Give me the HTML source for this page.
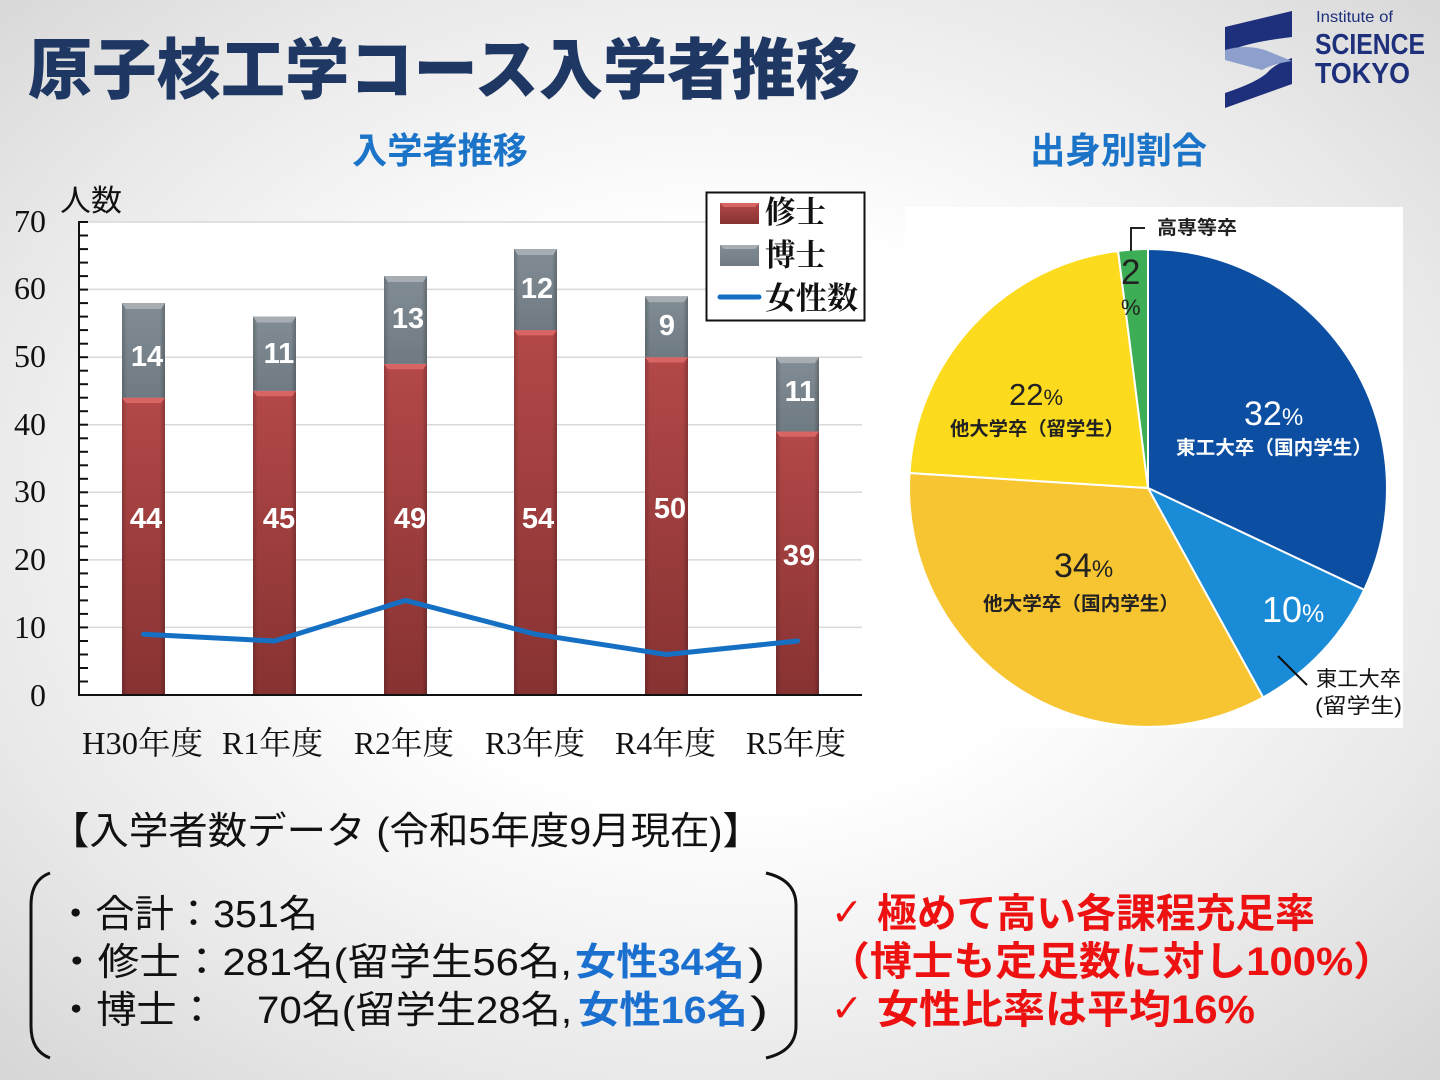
<!DOCTYPE html>
<html><head><meta charset="utf-8"><style>
html,body{margin:0;padding:0;}
body{width:1440px;height:1080px;overflow:hidden;background:radial-gradient(ellipse 75% 75% at 50% 48%,#ffffff 35%,#e9e9e9 70%,#d3d3d3 100%);}
svg{display:block;}
</style></head><body>
<svg width="1440" height="1080" viewBox="0 0 1440 1080" xmlns="http://www.w3.org/2000/svg">
<defs>
<linearGradient id="red" x1="0" y1="0" x2="0" y2="1"><stop offset="0" stop-color="#b34848"/><stop offset="1" stop-color="#873232"/></linearGradient>
<linearGradient id="redh" x1="0" y1="0" x2="1" y2="0"><stop offset="0" stop-color="#000" stop-opacity="0.18"/><stop offset="0.12" stop-color="#000" stop-opacity="0"/><stop offset="0.88" stop-color="#000" stop-opacity="0"/><stop offset="1" stop-color="#000" stop-opacity="0.22"/></linearGradient>
<linearGradient id="gray" x1="0" y1="0" x2="0" y2="1"><stop offset="0" stop-color="#818c94"/><stop offset="1" stop-color="#6f7a82"/></linearGradient>
</defs>

<!-- Title -->
<text x="28" y="93" font-family="Liberation Sans, Noto Sans CJK JP, sans-serif" font-weight="900" font-size="66" fill="#1f3763" textLength="832" lengthAdjust="spacingAndGlyphs">原子核工学コース入学者推移</text>

<!-- Logo -->
<g fill="#1e2f7c">
<path d="M1225,27 L1292,11 L1292,37 Q1250,42 1232,50 L1225,55 Z"/>
<path d="M1292,58 L1292,84 L1225,108 L1225,93 Q1258,82 1268,72 Q1275,64 1292,58 Z"/>
</g>
<path d="M1225,50 Q1245,44 1265,50 L1292,61 Q1272,64 1262,70 L1225,60 Z" fill="#8d9fcd"/>
<text x="1316" y="22" font-family="Liberation Sans, sans-serif" font-size="16" fill="#1e2f7c" textLength="77" lengthAdjust="spacingAndGlyphs">Institute of</text>
<text x="1315" y="54" font-family="Liberation Sans, sans-serif" font-weight="bold" font-size="29" fill="#1e2f7c" textLength="110" lengthAdjust="spacingAndGlyphs">SCIENCE</text>
<text x="1315" y="83" font-family="Liberation Sans, sans-serif" font-weight="bold" font-size="29" fill="#1e2f7c" textLength="95" lengthAdjust="spacingAndGlyphs">TOKYO</text>

<!-- Subtitles -->
<text x="352" y="163" font-family="Liberation Sans, Noto Sans CJK JP, sans-serif" font-weight="bold" font-size="36" fill="#1b74c8" textLength="176" lengthAdjust="spacingAndGlyphs">入学者推移</text>
<text x="1030" y="163" font-family="Liberation Sans, Noto Sans CJK JP, sans-serif" font-weight="bold" font-size="36" fill="#1b74c8" textLength="177" lengthAdjust="spacingAndGlyphs">出身別割合</text>

<!-- Bar chart -->
<rect x="79" y="222" width="783" height="473" fill="#ffffff"/>
<g stroke="#d9d9d9" stroke-width="1.5">
<line x1="79" y1="222" x2="862" y2="222"/>
<line x1="79" y1="289.4" x2="862" y2="289.4"/>
<line x1="79" y1="357.2" x2="862" y2="357.2"/>
<line x1="79" y1="424.7" x2="862" y2="424.7"/>
<line x1="79" y1="492.3" x2="862" y2="492.3"/>
<line x1="79" y1="559.9" x2="862" y2="559.9"/>
<line x1="79" y1="627.4" x2="862" y2="627.4"/>
</g>
<text x="60" y="211" font-family="Liberation Sans, Noto Sans CJK JP, sans-serif" font-size="30" fill="#111" textLength="62" lengthAdjust="spacingAndGlyphs">人数</text>
<g font-family="Liberation Serif, serif" font-size="32" fill="#111" text-anchor="end">
<text x="46" y="232">70</text>
<text x="46" y="299">60</text>
<text x="46" y="367">50</text>
<text x="46" y="435">40</text>
<text x="46" y="502">30</text>
<text x="46" y="570">20</text>
<text x="46" y="638">10</text>
<text x="46" y="706">0</text>
</g>

<!-- bars -->
<g id="bars">
<rect x="122" y="397.7" width="43" height="297.3" fill="url(#red)"/>
<rect x="122" y="397.7" width="43" height="297.3" fill="url(#redh)"/>
<polygon points="122,397.7 165,397.7 161,403 126,403" fill="#d96464"/>
<rect x="122" y="303.1" width="43" height="94.6" fill="url(#gray)"/>
<rect x="122" y="303.1" width="43" height="94.6" fill="url(#redh)"/>
<polygon points="122,303.1 165,303.1 161,309 126,309" fill="#a6aeb4"/>
<rect x="253" y="390.9" width="43" height="304.1" fill="url(#red)"/>
<rect x="253" y="390.9" width="43" height="304.1" fill="url(#redh)"/>
<polygon points="253,390.9 296,390.9 292,396.2 257,396.2" fill="#d96464"/>
<rect x="253" y="316.6" width="43" height="74.3" fill="url(#gray)"/>
<rect x="253" y="316.6" width="43" height="74.3" fill="url(#redh)"/>
<polygon points="253,316.6 296,316.6 292,322.5 257,322.5" fill="#a6aeb4"/>
<rect x="384" y="363.9" width="43" height="331.1" fill="url(#red)"/>
<rect x="384" y="363.9" width="43" height="331.1" fill="url(#redh)"/>
<polygon points="384,363.9 427,363.9 423,369.2 388,369.2" fill="#d96464"/>
<rect x="384" y="276.1" width="43" height="87.8" fill="url(#gray)"/>
<rect x="384" y="276.1" width="43" height="87.8" fill="url(#redh)"/>
<polygon points="384,276.1 427,276.1 423,282 388,282" fill="#a6aeb4"/>
<rect x="514" y="330.1" width="43" height="364.9" fill="url(#red)"/>
<rect x="514" y="330.1" width="43" height="364.9" fill="url(#redh)"/>
<polygon points="514,330.1 557,330.1 553,335.4 518,335.4" fill="#d96464"/>
<rect x="514" y="249.1" width="43" height="81" fill="url(#gray)"/>
<rect x="514" y="249.1" width="43" height="81" fill="url(#redh)"/>
<polygon points="514,249.1 557,249.1 553,255 518,255" fill="#a6aeb4"/>
<rect x="645" y="357.2" width="43" height="337.8" fill="url(#red)"/>
<rect x="645" y="357.2" width="43" height="337.8" fill="url(#redh)"/>
<polygon points="645,357.2 688,357.2 684,362.5 649,362.5" fill="#d96464"/>
<rect x="645" y="296.3" width="43" height="60.9" fill="url(#gray)"/>
<rect x="645" y="296.3" width="43" height="60.9" fill="url(#redh)"/>
<polygon points="645,296.3 688,296.3 684,302.2 649,302.2" fill="#a6aeb4"/>
<rect x="776" y="431.5" width="43" height="263.5" fill="url(#red)"/>
<rect x="776" y="431.5" width="43" height="263.5" fill="url(#redh)"/>
<polygon points="776,431.5 819,431.5 815,436.8 780,436.8" fill="#d96464"/>
<rect x="776" y="357.2" width="43" height="74.3" fill="url(#gray)"/>
<rect x="776" y="357.2" width="43" height="74.3" fill="url(#redh)"/>
<polygon points="776,357.2 819,357.2 815,363.1 780,363.1" fill="#a6aeb4"/>
</g>

<!-- data labels -->
<g font-family="Liberation Sans, sans-serif" font-weight="bold" font-size="29" fill="#ffffff" text-anchor="middle">
<text x="147" y="366">14</text>
<text x="279" y="363">11</text>
<text x="408" y="328">13</text>
<text x="537" y="298">12</text>
<text x="667" y="335">9</text>
<text x="800" y="401">11</text>
<text x="146" y="528">44</text>
<text x="279" y="528">45</text>
<text x="410" y="528">49</text>
<text x="538" y="528">54</text>
<text x="670" y="518">50</text>
<text x="799" y="565">39</text>
</g>

<!-- female line -->
<polyline points="143.5,634.2 274.5,641 405.5,600.4 535.5,634.2 666.5,654.5 797.5,641" fill="none" stroke="#1570c3" stroke-width="5" stroke-linejoin="round" stroke-linecap="round"/>

<!-- axes -->
<g stroke="#111" stroke-width="2">
<line x1="79" y1="221" x2="79" y2="696"/>
<line x1="78" y1="695" x2="862" y2="695"/>
</g>
<g stroke="#111" stroke-width="2">
<line x1="79" y1="222" x2="88" y2="222"/><line x1="79" y1="235.5" x2="88" y2="235.5"/><line x1="79" y1="249.1" x2="88" y2="249.1"/><line x1="79" y1="262.6" x2="88" y2="262.6"/><line x1="79" y1="276.1" x2="88" y2="276.1"/>
<line x1="79" y1="289.6" x2="88" y2="289.6"/><line x1="79" y1="303.1" x2="88" y2="303.1"/><line x1="79" y1="316.6" x2="88" y2="316.6"/><line x1="79" y1="330.1" x2="88" y2="330.1"/><line x1="79" y1="343.7" x2="88" y2="343.7"/>
<line x1="79" y1="357.2" x2="88" y2="357.2"/><line x1="79" y1="370.7" x2="88" y2="370.7"/><line x1="79" y1="384.2" x2="88" y2="384.2"/><line x1="79" y1="397.7" x2="88" y2="397.7"/><line x1="79" y1="411.2" x2="88" y2="411.2"/>
<line x1="79" y1="424.7" x2="88" y2="424.7"/><line x1="79" y1="438.3" x2="88" y2="438.3"/><line x1="79" y1="451.8" x2="88" y2="451.8"/><line x1="79" y1="465.3" x2="88" y2="465.3"/><line x1="79" y1="478.8" x2="88" y2="478.8"/>
<line x1="79" y1="492.3" x2="88" y2="492.3"/><line x1="79" y1="505.8" x2="88" y2="505.8"/><line x1="79" y1="519.3" x2="88" y2="519.3"/><line x1="79" y1="532.8" x2="88" y2="532.8"/><line x1="79" y1="546.4" x2="88" y2="546.4"/>
<line x1="79" y1="559.9" x2="88" y2="559.9"/><line x1="79" y1="573.4" x2="88" y2="573.4"/><line x1="79" y1="586.9" x2="88" y2="586.9"/><line x1="79" y1="600.4" x2="88" y2="600.4"/><line x1="79" y1="613.9" x2="88" y2="613.9"/>
<line x1="79" y1="627.4" x2="88" y2="627.4"/><line x1="79" y1="641" x2="88" y2="641"/><line x1="79" y1="654.5" x2="88" y2="654.5"/><line x1="79" y1="668" x2="88" y2="668"/><line x1="79" y1="681.5" x2="88" y2="681.5"/>
</g>

<!-- x labels -->
<g font-family="Liberation Serif, Noto Serif CJK JP, serif" font-size="32" fill="#111">
<text x="82" y="754" textLength="121" lengthAdjust="spacingAndGlyphs">H30年度</text>
<text x="222" y="754" textLength="101" lengthAdjust="spacingAndGlyphs">R1年度</text>
<text x="354" y="754" textLength="100" lengthAdjust="spacingAndGlyphs">R2年度</text>
<text x="485" y="754" textLength="100" lengthAdjust="spacingAndGlyphs">R3年度</text>
<text x="615" y="754" textLength="101" lengthAdjust="spacingAndGlyphs">R4年度</text>
<text x="746" y="754" textLength="100" lengthAdjust="spacingAndGlyphs">R5年度</text>
</g>

<!-- legend -->
<rect x="706.5" y="192.5" width="158" height="128" fill="#ffffff" stroke="#111" stroke-width="2"/>
<rect x="720" y="203" width="39" height="21" fill="url(#red)"/>
<polygon points="720,203 759,203 755,207 724,207" fill="#d96464"/>
<rect x="720" y="245" width="39" height="21" fill="url(#gray)"/>
<polygon points="720,245 759,245 755,249 724,249" fill="#a6aeb4"/>
<line x1="720" y1="297" x2="759" y2="297" stroke="#1570c3" stroke-width="5" stroke-linecap="round"/>
<g font-family="Liberation Serif, Noto Serif CJK JP, serif" font-size="31" font-weight="bold" fill="#111">
<text x="765" y="223" textLength="61" lengthAdjust="spacingAndGlyphs">修士</text>
<text x="765" y="266" textLength="61" lengthAdjust="spacingAndGlyphs">博士</text>
<text x="765" y="309" textLength="93" lengthAdjust="spacingAndGlyphs">女性数</text>
</g>

<!-- Pie chart -->
<rect x="905" y="207" width="498" height="521" fill="#ffffff"/>
<g stroke="#ffffff" stroke-width="2" stroke-linejoin="round">
<path d="M1148,488 L1148,249 A239,239 0 0 1 1364.2,589.8 Z" fill="#0c4ea2"/>
<path d="M1148,488 L1364.2,589.8 A239,239 0 0 1 1263.1,697.4 Z" fill="#1a8bd6"/>
<path d="M1148,488 L1263.1,697.4 A239,239 0 0 1 909.5,473 Z" fill="#f8c532"/>
<path d="M1148,488 L909.5,473 A239,239 0 0 1 1118.1,250.9 Z" fill="#fcdb1f"/>
<path d="M1148,488 L1118.1,250.9 A239,239 0 0 1 1148,249 Z" fill="#3dae55"/>
</g>
<polyline points="1145,228 1131,228 1131,251" fill="none" stroke="#222" stroke-width="2"/>
<text x="1157" y="234" font-family="Liberation Sans, Noto Sans CJK JP, sans-serif" font-weight="bold" font-size="19" fill="#222" textLength="80" lengthAdjust="spacingAndGlyphs">高専等卒</text>
<text x="1121" y="284" font-family="Liberation Sans, sans-serif" font-size="35" fill="#222">2</text>
<text x="1121" y="315" font-family="Liberation Sans, sans-serif" font-size="22" fill="#222">%</text>

<g font-family="Liberation Sans, sans-serif">
<text x="1009" y="405" font-size="31" fill="#222">22<tspan font-size="22">%</tspan></text>
<text x="1244" y="425" font-size="34" fill="#ffffff">32<tspan font-size="24">%</tspan></text>
<text x="1054" y="577" font-size="34" fill="#222">34<tspan font-size="24">%</tspan></text>
<text x="1262" y="622" font-size="36" fill="#ffffff">10<tspan font-size="25">%</tspan></text>
</g>
<g font-family="Liberation Sans, Noto Sans CJK JP, sans-serif" font-weight="bold" font-size="19">
<text x="950" y="435" fill="#222" textLength="174" lengthAdjust="spacingAndGlyphs">他大学卒（留学生）</text>
<text x="1176" y="454" fill="#ffffff" textLength="196" lengthAdjust="spacingAndGlyphs">東工大卒（国内学生）</text>
<text x="983" y="610" fill="#222" textLength="196" lengthAdjust="spacingAndGlyphs">他大学卒（国内学生）</text>
</g>
<line x1="1278" y1="656" x2="1307" y2="685" stroke="#111" stroke-width="2"/>
<g font-family="Liberation Sans, Noto Sans CJK JP, sans-serif" font-size="21" fill="#111">
<text x="1316" y="686" textLength="85" lengthAdjust="spacingAndGlyphs">東工大卒</text>
<text x="1315" y="713" textLength="87" lengthAdjust="spacingAndGlyphs">(留学生)</text>
</g>

<!-- Bottom data -->
<g font-family="Liberation Sans, Noto Sans CJK JP, sans-serif" font-size="38" fill="#111">
<text x="50" y="844" textLength="712" lengthAdjust="spacingAndGlyphs">【入学者数データ (令和5年度9月現在)】</text>
<text x="56" y="927" textLength="262" lengthAdjust="spacingAndGlyphs">・合計：351名</text>
<text x="56" y="975" textLength="516" lengthAdjust="spacingAndGlyphs">・修士：281名(留学生56名, </text>
<text x="748" y="975" textLength="17" lengthAdjust="spacingAndGlyphs">)</text>
<text x="56" y="1023" textLength="516" lengthAdjust="spacingAndGlyphs">・博士：　70名(留学生28名, </text>
<text x="750" y="1023" textLength="18" lengthAdjust="spacingAndGlyphs">)</text>
</g>
<g font-family="Liberation Sans, Noto Sans CJK JP, sans-serif" font-size="38" font-weight="bold" fill="#1a6fcf">
<text x="575" y="975" textLength="170" lengthAdjust="spacingAndGlyphs">女性34名</text>
<text x="578" y="1023" textLength="170" lengthAdjust="spacingAndGlyphs">女性16名</text>
</g>
<path d="M50,873 Q31,880 31,905 L31,1026 Q31,1051 50,1058" fill="none" stroke="#111" stroke-width="3"/>
<path d="M766,873 Q796,880 796,905 L796,1026 Q796,1051 766,1058" fill="none" stroke="#111" stroke-width="3"/>

<!-- Red notes -->
<g font-family="DejaVu Sans, sans-serif" font-size="38" fill="#ee1111">
<text x="831" y="925">✓</text>
<text x="831" y="1021">✓</text>
</g>
<g font-family="Liberation Sans, Noto Sans CJK JP, sans-serif" font-size="40" font-weight="bold" fill="#ee1111">
<text x="877" y="927" textLength="438" lengthAdjust="spacingAndGlyphs">極めて高い各課程充足率</text>
<text x="828" y="975" textLength="567" lengthAdjust="spacingAndGlyphs">（博士も定足数に対し100%）</text>
<text x="877" y="1023" textLength="378" lengthAdjust="spacingAndGlyphs">女性比率は平均16%</text>
</g>
</svg>
</body></html>
